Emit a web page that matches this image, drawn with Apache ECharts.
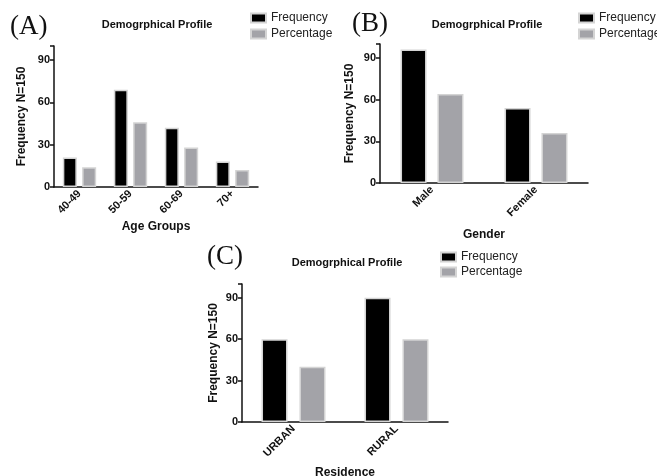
<!DOCTYPE html>
<html>
<head>
<meta charset="utf-8">
<script src="https://cdn.jsdelivr.net/npm/echarts@6/dist/echarts.min.js"></script>
<style>
  html, body { margin: 0; padding: 0; background: #fff; }
  #main { width: 657px; height: 476px; }
</style>
</head>
<body>
<div id="main"></div>
<script>
(function () {
  'use strict';
  // data
  var ageGroups = ['40-49', '50-59', '60-69', '70+'];
  var ageFreq = [21, 69, 42, 18];
  var agePct = [14, 46, 28, 12];

  var genders = ['Male', 'Female'];
  var genderFreq = [96, 54];
  var genderPct = [64, 36];

  var residences = ['URBAN', 'RURAL'];
  var resFreq = [60, 90];
  var resPct = [40, 60];

  var yTicks = [0, 30, 60, 90];

  var font = 'Liberation Sans, Arial, sans-serif';
  var black = '#000';
  var grey = '#a3a3a8';

  var myChart = echarts.init(document.getElementById('main'));

  function xAxis(idx, cats, name, gap) {
    return {
      type: 'category', gridIndex: idx, data: cats,
      name: name, nameLocation: 'middle', nameGap: gap,
      nameTextStyle: { fontFamily: font, fontWeight: 'bold', fontSize: 12, color: '#111' },
      axisLine: { lineStyle: { color: '#111', width: 1.5 } },
      axisTick: { alignWithLabel: true, length: 4, lineStyle: { color: '#111', width: 1.5 } },
      axisLabel: { rotate: 45, fontFamily: font, fontWeight: 'bold', fontSize: 11, color: '#111', margin: 5 }
    };
  }
  function yAxis(idx, gap) {
    return {
      type: 'value', gridIndex: idx, min: 0, max: 100, interval: 30,
      name: 'Frequency N=150', nameLocation: 'middle', nameGap: gap,
      nameTextStyle: { fontFamily: font, fontWeight: 'bold', fontSize: 12, color: '#111' },
      axisLine: { show: true, lineStyle: { color: '#111', width: 1.5 } },
      axisTick: { show: true, length: 4, lineStyle: { color: '#111', width: 1.5 } },
      splitLine: { show: false },
      axisLabel: {
        fontFamily: font, fontWeight: 'bold', fontSize: 11, color: '#111', margin: 4,
        formatter: function (v) { return yTicks.indexOf(v) >= 0 ? v : ''; }
      }
    };
  }
  function bars(idx, name, data, color, width, gap) {
    return {
      name: name, type: 'bar', xAxisIndex: idx, yAxisIndex: idx, data: data,
      barWidth: width, barGap: gap,
      itemStyle: { color: color, borderColor: '#d4d4d4', borderWidth: 1.5 }
    };
  }
  function legend(left, top, gap) {
    return {
      data: ['Frequency', 'Percentage'], orient: 'vertical', left: left, top: top,
      itemWidth: 15, itemHeight: 9, itemGap: gap, icon: 'rect', padding: 0,
      textStyle: { fontFamily: font, fontSize: 12, color: '#222' }
    };
  }
  function panelTitle(text, left, top) {
    return { text: text, left: left, top: top, padding: 0,
      textStyle: { fontFamily: 'Liberation Serif, serif', fontSize: 27, fontWeight: 'normal', color: '#111' } };
  }
  function heading(left, top) {
    return { text: 'Demogrphical Profile', left: left, top: top, textAlign: 'center', padding: 0,
      textStyle: { fontFamily: font, fontSize: 11, fontWeight: 'bold', color: '#111' } };
  }
  function grid(l, r, t, b) {
    return { left: l, right: r, top: t, bottom: b, outerBoundsMode: 'none', containLabel: false };
  }

  var option = {
    animation: false,
    title: [
      panelTitle('(A)', 10, 13), heading(157, 19),
      panelTitle('(B)', 352, 10), heading(487, 19),
      panelTitle('(C)', 207, 243), heading(347, 257)
    ],
    legend: [legend(250, 12, 4), legend(578, 12, 4), legend(440, 251, 3)],
    grid: [
      grid(54, 399, 46, 289),
      grid(380, 69, 44, 293),
      grid(242, 209, 284, 54)
    ],
    xAxis: [
      xAxis(0, ageGroups, 'Age Groups', 34),
      xAxis(1, genders, 'Gender', 46),
      xAxis(2, residences, 'Residence', 45)
    ],
    yAxis: [yAxis(0, 26), yAxis(1, 24), yAxis(2, 22)],
    series: [
      bars(0, 'Frequency', ageFreq, black, 14, '38%'),
      bars(0, 'Percentage', agePct, grey, 14, '38%'),
      bars(1, 'Frequency', genderFreq, black, 26, '42%'),
      bars(1, 'Percentage', genderPct, grey, 26, '42%'),
      bars(2, 'Frequency', resFreq, black, 26, '46%'),
      bars(2, 'Percentage', resPct, grey, 26, '46%')
    ]
  };

  myChart.setOption(option);
  window.addEventListener('resize', function () {
    myChart.resize();
  });
})();
</script>
</body>
</html>
